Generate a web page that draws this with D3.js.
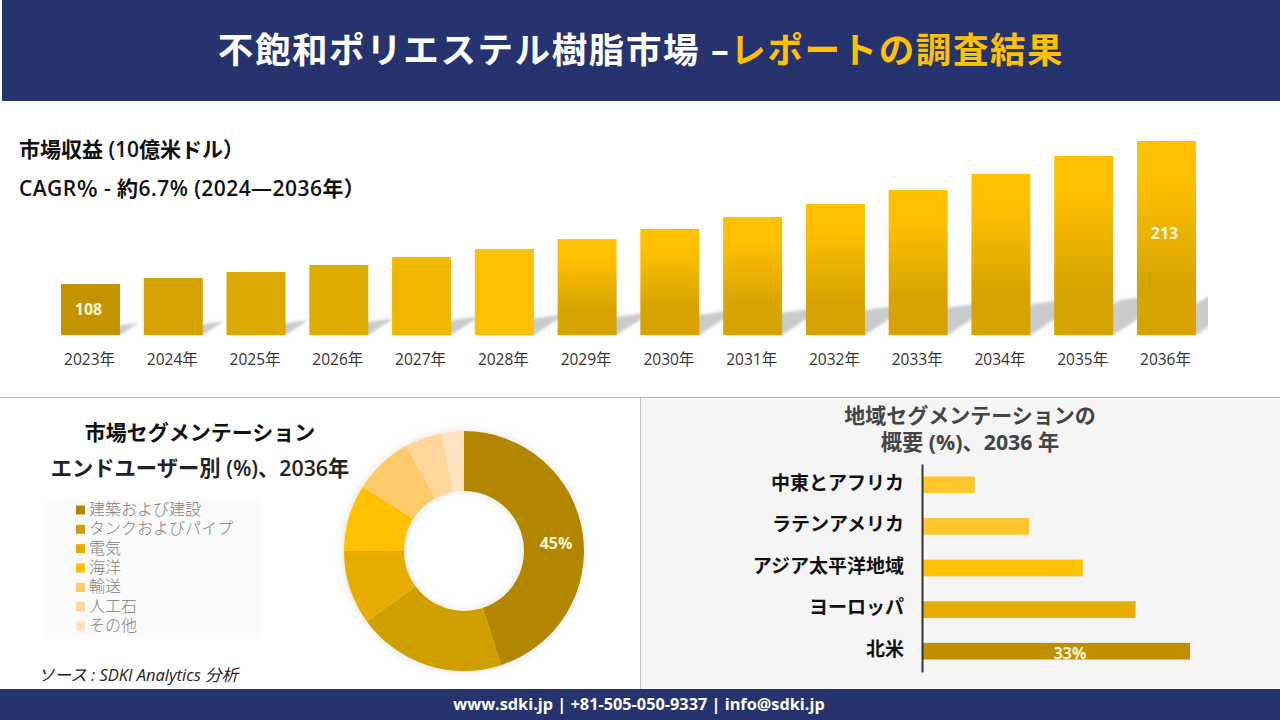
<!DOCTYPE html>
<html>
<head>
<meta charset="utf-8">
<script src="https://cdn.jsdelivr.net/npm/d3@7"></script>
<style>
  html, body { margin: 0; padding: 0; background: #fff; overflow: hidden; }
  text { font-family: "Open Sans", "Noto Sans CJK JP", sans-serif; }
  .legend-label { font-family: "Liberation Sans", "Noto Sans CJK JP", sans-serif; }
</style>
</head>
<body>
<svg id="chart" width="1280" height="720"></svg>
<script>
// market revenue
const years = ["2023年","2024年","2025年","2026年","2027年","2028年","2029年","2030年","2031年","2032年","2033年","2034年","2035年","2036年"];
const revenue = [108, 112.4, 116.8, 122, 127.8, 133.7, 141, 148.4, 157.2, 166.7, 177, 188.8, 202, 213];
const revenueLabels = { "2023年": "108", "2036年": "213" };

// end user donut
const endUsers = ["建築および建設","タンクおよびパイプ","電気","海洋","輸送","人工石","その他"];
const endUserShare = [45, 20, 10, 9, 8, 5, 3];
const endUserColors = ["#b38600","#cf9f00","#e6ad00","#ffc000","#ffcb6b","#ffd699","#ffe2bf"];

// regions
const regions = ["中東とアフリカ","ラテンアメリカ","アジア太平洋地域","ヨーロッパ","北米"];
const regionShare = [6.5, 13.2, 19.8, 26.3, 33];
const regionColors = ["#ffc72c","#ffc72c","#ffc000","#e6ad00","#bf8f00"];

const navy = "#26336f";
const svg = d3.select("#chart");
const defs = svg.append("defs");

const barGradient = defs.append("linearGradient").attr("id", "barFade").attr("x1", 0).attr("y1", 0).attr("x2", 0).attr("y2", 1);
barGradient.append("stop").attr("offset", "20%").attr("stop-color", "#ffc000");
barGradient.append("stop").attr("offset", "75%").attr("stop-color", "#d6a300");

const softShadow = defs.append("filter").attr("id", "soft").attr("x", "-5%").attr("y", "-20%").attr("width", "110%").attr("height", "140%");
softShadow.append("feGaussianBlur").attr("stdDeviation", 1.6);

defs.append("clipPath").attr("id", "shadowClip").append("rect").attr("x", 0).attr("y", 200).attr("width", 1208).attr("height", 140);

const donutGlow = defs.append("filter").attr("id", "glow").attr("x", "-20%").attr("y", "-20%").attr("width", "140%").attr("height", "140%");
donutGlow.append("feDropShadow").attr("dx", 0).attr("dy", 0).attr("stdDeviation", 5).attr("flood-color", "#000").attr("flood-opacity", 0.12);

// header, footer, panels
svg.append("rect").attr("x", 2).attr("y", 0).attr("width", 1278).attr("height", 101).attr("fill", navy);
svg.append("rect").attr("x", 640).attr("y", 398).attr("width", 640).attr("height", 291).attr("fill", "#f5f5f5");
svg.append("line").attr("x1", 0).attr("x2", 1280).attr("y1", 397.5).attr("y2", 397.5).attr("stroke", "#b5b5b5");
svg.append("line").attr("x1", 640.5).attr("x2", 640.5).attr("y1", 398).attr("y2", 689).attr("stroke", "#c4c4c4");
svg.append("rect").attr("x", 0).attr("y", 689).attr("width", 1280).attr("height", 31).attr("fill", navy);

const title = svg.append("text").attr("x", 641).attr("y", 63).attr("text-anchor", "middle").attr("font-size", 35.5).attr("letter-spacing", 1.6).attr("font-weight", 700);
title.append("tspan").attr("fill", "#fff").text("不飽和ポリエステル樹脂市場 –");
title.append("tspan").attr("fill", "#ffc000").text("レポートの調査結果");

svg.append("text").attr("x", 639).attr("y", 710).attr("text-anchor", "middle").attr("font-size", 16.3).attr("font-weight", 700).attr("fill", "#fff")
  .text("www.sdki.jp | +81-505-050-9337 | info@sdki.jp");

svg.append("text").attr("x", 19).attr("y", 157).attr("font-size", 21).attr("font-weight", 600).attr("fill", "#111").text("市場収益 (10億米ドル）");
svg.append("text").attr("x", 19).attr("y", 196).attr("font-size", 21).attr("letter-spacing", 0.45).attr("font-weight", 600).attr("fill", "#111").text("CAGR％ - 約6.7% (2024—2036年）");

// revenue bars (the value axis does not start at zero in the reference)
const x = d3.scaleBand().domain(years).range([61, 1196]).paddingInner(0.287).paddingOuter(0);
const y = d3.scaleLinear().domain([70.6, 213]).range([335, 141]);

// skewed copy of each bar lying behind it, same idea as the reference's cast shadow
const shadowPath = (d, i) => {
  const left = x(years[i]);
  const right = left + x.bandwidth();
  const base = y.range()[0];
  const rise = (base - y(d)) * 0.24;
  const run = rise / 0.65;
  return `M${left},${base} L${right},${base} L${right + run},${base - rise} L${left + run},${base - rise + 8} Z`;
};
svg.append("g").attr("clip-path", "url(#shadowClip)").append("g").attr("filter", "url(#soft)")
  .selectAll("path").data(revenue).join("path")
  .attr("d", shadowPath)
  .attr("fill", "#c9cacb");

const flatColors = ["#c39300","#d4a300","#dca900","#e0ac00","#f1b700","#ffc000"];
svg.append("g").selectAll("rect").data(revenue).join("rect")
  .attr("x", (d, i) => x(years[i]))
  .attr("y", d => y(d))
  .attr("width", x.bandwidth())
  .attr("height", d => y.range()[0] - y(d))
  .attr("fill", (d, i) => flatColors[i] || "url(#barFade)");

const xAxis = svg.append("g").attr("transform", "translate(0,335)").call(d3.axisBottom(x).tickSize(0).tickPadding(19));
xAxis.select(".domain").remove();
xAxis.selectAll("text").attr("font-size", 15.5).attr("fill", "#333").attr("dx", -1);

svg.append("g").selectAll("text").data(years.filter(k => revenueLabels[k])).join("text")
  .attr("x", k => x(k) + x.bandwidth() / 2 - 2)
  .attr("y", k => k === "2023年" ? 315 : 239)
  .attr("text-anchor", "middle").attr("font-size", 16).attr("font-weight", 700).attr("fill", "#fff6d6")
  .text(k => revenueLabels[k]);

// donut
svg.append("text").attr("x", 200).attr("y", 440).attr("text-anchor", "middle").attr("font-size", 21).attr("font-weight", 700).attr("fill", "#111").text("市場セグメンテーション");
svg.append("text").attr("x", 200).attr("y", 476).attr("text-anchor", "middle").attr("font-size", 21.3).attr("font-weight", 600).attr("fill", "#222").text("エンドユーザー別 (%)、2036年");

svg.append("rect").attr("x", 46).attr("y", 500).attr("width", 215).attr("height", 137).attr("fill", "#fafafa");
const legendY = d3.scalePoint().domain(endUsers).range([510, 626]);
const legend = svg.append("g").selectAll("g").data(endUsers).join("g").attr("transform", d => `translate(76,${legendY(d)})`);
legend.append("rect").attr("y", -4.5).attr("width", 9).attr("height", 9).attr("fill", (d, i) => endUserColors[i]);
legend.append("text").attr("class", "legend-label").attr("x", 13).attr("y", 5).attr("font-size", 16).attr("font-weight", 300).attr("fill", "#808080").text(d => d);

const pie = d3.pie().sort(null);
const arc = d3.arc().innerRadius(60).outerRadius(120);
const donut = svg.append("g").attr("transform", "translate(464,551)").attr("filter", "url(#glow)");
donut.selectAll("path").data(pie(endUserShare)).join("path")
  .attr("d", arc)
  .attr("fill", (d, i) => endUserColors[i]);
svg.append("text").attr("x", 556).attr("y", 549).attr("text-anchor", "middle").attr("font-size", 16).attr("font-weight", 700).attr("fill", "#fff6d6").text(endUserShare[0] + "%");

svg.append("text").attr("x", 38).attr("y", 681).attr("font-size", 16.5).attr("font-style", "italic").attr("fill", "#222").text("ソース : SDKI Analytics 分析");

// regions
svg.append("text").attr("x", 970).attr("y", 423).attr("text-anchor", "middle").attr("font-size", 21).attr("font-weight", 700).attr("fill", "#444").text("地域セグメンテーションの");
svg.append("text").attr("x", 970).attr("y", 450).attr("text-anchor", "middle").attr("font-size", 21.3).attr("font-weight", 700).attr("fill", "#444").text("概要 (%)、2036 年");

const rx = d3.scaleLinear().domain([0, 33]).range([922, 1190]);
const ry = d3.scaleBand().domain(regions).range([464, 672]).paddingInner(0.6).paddingOuter(0.3);
svg.append("g").selectAll("rect").data(regionShare).join("rect")
  .attr("x", rx(0))
  .attr("y", (d, i) => ry(regions[i]))
  .attr("width", d => rx(d) - rx(0))
  .attr("height", ry.bandwidth())
  .attr("fill", (d, i) => regionColors[i]);
const yAxis = svg.append("g").attr("transform", "translate(922,0)").call(d3.axisLeft(ry).tickSize(0).tickPadding(18));
yAxis.select(".domain").attr("stroke", "#333").attr("stroke-width", 2);
yAxis.selectAll("text").attr("font-size", 19).attr("font-weight", 600).attr("fill", "#111").attr("dy", "0.25em");

svg.append("text").attr("x", 1070).attr("y", 659).attr("text-anchor", "middle").attr("font-size", 16).attr("font-weight", 700).attr("fill", "#fff6d6").text(regionShare[4] + "%");
</script>
</body>
</html>
